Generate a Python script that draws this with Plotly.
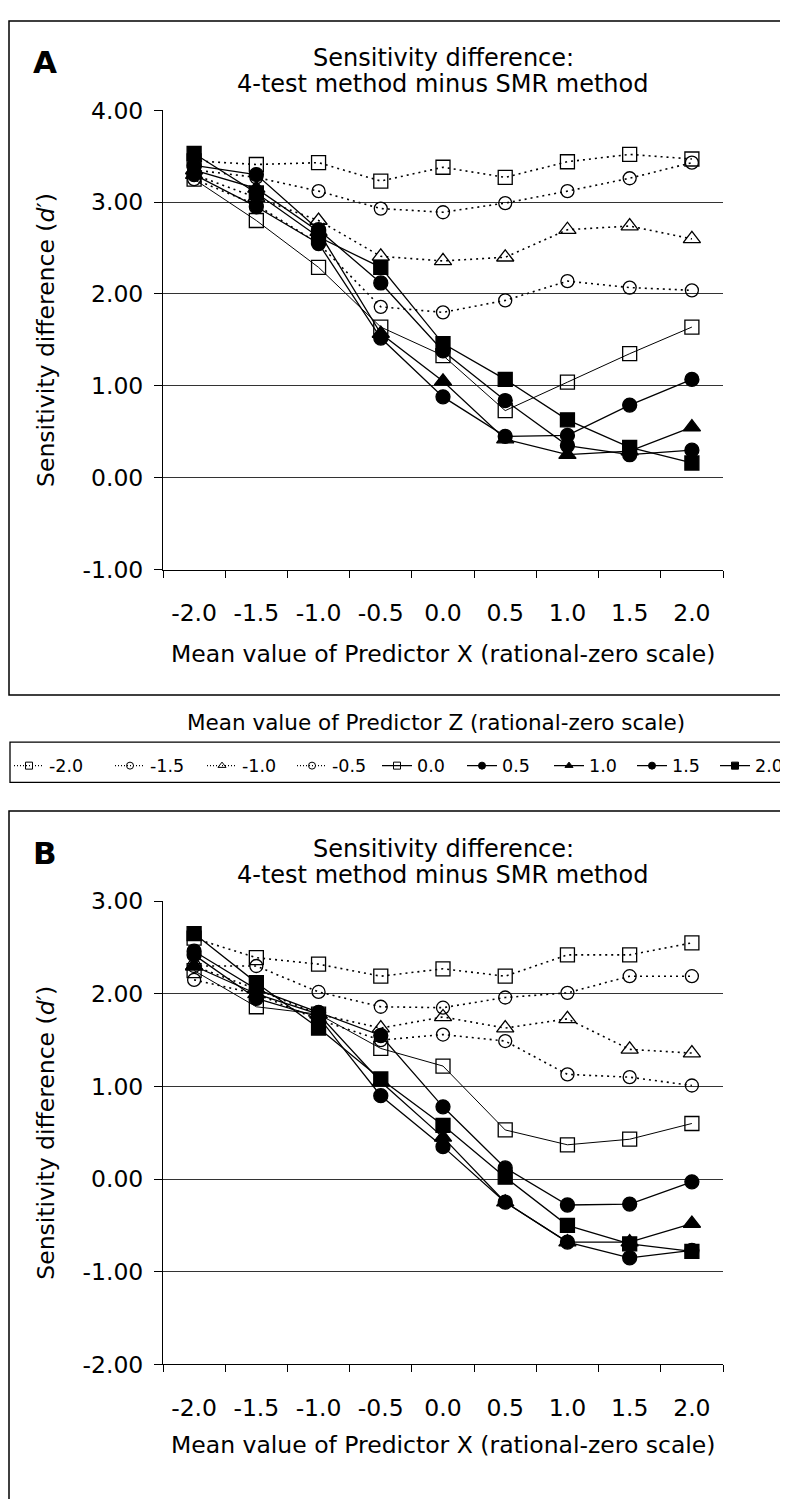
import plotly.graph_objects as go

# ---------------- data ----------------
x_vals = [-2.0, -1.5, -1.0, -0.5, 0.0, 0.5, 1.0, 1.5, 2.0]
x_labels = ["-2.0", "-1.5", "-1.0", "-0.5", "0.0", "0.5", "1.0", "1.5", "2.0"]
z_labels = ["-2.0", "-1.5", "-1.0", "-0.5", "0.0", "0.5", "1.0", "1.5", "2.0"]

# Panel A
a_zn20 = [3.45, 3.41, 3.43, 3.23, 3.38, 3.27, 3.44, 3.52, 3.47]
a_zn15 = [3.35, 3.27, 3.12, 2.93, 2.89, 2.99, 3.12, 3.26, 3.43]
a_zn10 = [3.30, 3.05, 2.80, 2.41, 2.36, 2.40, 2.70, 2.74, 2.60]
a_zn05 = [3.25, 2.97, 2.55, 1.86, 1.80, 1.93, 2.14, 2.07, 2.04]
a_z00 = [3.25, 2.80, 2.29, 1.64, 1.33, 0.73, 1.04, 1.35, 1.64]
a_z05 = [3.30, 2.95, 2.55, 1.52, 0.88, 0.45, 0.46, 0.79, 1.07]
a_z10 = [3.35, 3.15, 2.68, 1.57, 1.05, 0.42, 0.25, 0.29, 0.55]
a_z15 = [3.40, 3.30, 2.70, 2.12, 1.38, 0.84, 0.35, 0.25, 0.30]
a_z20 = [3.53, 3.10, 2.62, 2.29, 1.46, 1.07, 0.63, 0.33, 0.16]

# Panel B
b_zn20 = [2.60, 2.39, 2.32, 2.19, 2.27, 2.19, 2.42, 2.42, 2.55]
b_zn15 = [2.30, 2.30, 2.02, 1.86, 1.85, 1.96, 2.01, 2.19, 2.19]
b_zn10 = [2.30, 2.05, 1.78, 1.63, 1.75, 1.63, 1.73, 1.40, 1.36]
b_zn05 = [2.15, 2.00, 1.72, 1.50, 1.56, 1.49, 1.13, 1.10, 1.01]
b_z00 = [2.25, 1.86, 1.78, 1.41, 1.22, 0.53, 0.37, 0.43, 0.60]
b_z05 = [2.46, 2.05, 1.80, 1.55, 0.78, 0.12, -0.28, -0.27, -0.03]
b_z10 = [2.30, 2.00, 1.78, 1.05, 0.45, -0.25, -0.68, -0.68, -0.48]
b_z15 = [2.42, 1.95, 1.75, 0.90, 0.35, -0.25, -0.68, -0.85, -0.77]
b_z20 = [2.65, 2.12, 1.63, 1.08, 0.58, 0.02, -0.50, -0.70, -0.78]

a_series = [a_zn20, a_zn15, a_zn10, a_zn05, a_z00, a_z05, a_z10, a_z15, a_z20]
b_series = [b_zn20, b_zn15, b_zn10, b_zn05, b_z00, b_z05, b_z10, b_z15, b_z20]

y_ticks_a = [-1, 0, 1, 2, 3, 4]
y_ticks_b = [-2, -1, 0, 1, 2, 3]

# ---------------- styles ----------------
FONT = "DejaVu Sans, Verdana, sans-serif"
DOT = "2px,4px"
styles = [
    dict(symbol="square-open", dash=DOT, lw=1.6, size=14),
    dict(symbol="circle-open", dash=DOT, lw=1.6, size=13),
    dict(symbol="triangle-up-open", dash=DOT, lw=1.6, size=15),
    dict(symbol="circle-open", dash=DOT, lw=1.6, size=13),
    dict(symbol="square-open", dash="solid", lw=1.0, size=14),
    dict(symbol="circle", dash="solid", lw=1.3, size=14),
    dict(symbol="triangle-up", dash="solid", lw=1.3, size=15),
    dict(symbol="circle", dash="solid", lw=1.3, size=14),
    dict(symbol="square", dash="solid", lw=1.3, size=14),
]
# per-entry legend text widths (px) to mimic the uneven spacing of the original legend
legend_widths = [56, 47, 45, 40, 40, 42, 38, 38, 28]

# ---------------- geometry (page pixels) ----------------
OFF = 8          # default body margin of the html page
W, H = 780, 1491


def px(xp):
    return (xp - OFF) / W


def py(yp):
    return 1 - (yp - OFF) / H


PLOT_L, PLOT_R = 163, 723
A_TOP, A_BOT = 98, 566
B_TOP, B_BOT = 904, 1376

fig = go.Figure()


def add_panel(series, xa, ya):
    for vals, st, name in zip(series, styles, z_labels):
        fig.add_trace(go.Scatter(
            x=x_vals, y=vals, xaxis=xa, yaxis=ya, mode="lines+markers",
            name=name, showlegend=False, legendgroup=name,
            line=dict(color="black", width=st["lw"], dash=st["dash"]),
            marker=dict(symbol=st["symbol"], size=st["size"], color="black",
                        line=dict(color="black", width=1.3)),
            hoverinfo="x+y+name",
        ))


add_panel(a_series, "x", "y")
add_panel(b_series, "x2", "y2")

# legend-only entries with small symbols
for st, name, lw in zip(styles, z_labels, legend_widths):
    dotted = st["dash"] != "solid"
    fig.add_trace(go.Scatter(
        x=[None], y=[None], mode="lines+markers", name=name, legendgroup=name,
        showlegend=True, legendwidth=lw,
        line=dict(color="black", width=1.2 if dotted else 1.3,
                  dash="1px,2px" if dotted else "solid"),
        marker=dict(symbol=st["symbol"], size=7, color="black",
                    line=dict(color="black", width=1)),
    ))

boundaries = [x_vals[0] - 0.25] + [(a + b) / 2 for a, b in zip(x_vals[:-1], x_vals[1:])] + [x_vals[-1] + 0.25]

TICK_FONT = dict(family=FONT, size=23.5, color="black")
xaxis_common = dict(
    range=[boundaries[0], boundaries[-1]], tickmode="array", tickvals=x_vals, ticktext=x_labels,
    ticks="outside", ticklen=7, tickcolor="rgba(0,0,0,0)", ticklabelstandoff=15,
    showline=True, linecolor="black", linewidth=1, showgrid=False, zeroline=False,
    tickfont=TICK_FONT,
    minor=dict(tickmode="array", tickvals=boundaries, ticks="outside", ticklen=7,
               tickcolor="black", tickwidth=1, showgrid=False),
    domain=[px(PLOT_L), px(PLOT_R)], fixedrange=True,
)
yaxis_common = dict(
    tickmode="array", ticks="outside", ticklen=8, tickcolor="black",
    showline=True, linecolor="black", linewidth=1, showgrid=True, gridcolor="#333333",
    gridwidth=1, zeroline=False, ticklabelstandoff=6,
    tickfont=TICK_FONT, fixedrange=True,
)

fig.update_layout(
    width=W, height=H, margin=dict(l=0, r=0, t=0, b=0),
    paper_bgcolor="white", plot_bgcolor="white",
    font=dict(family=FONT, color="black"),
    xaxis=dict(**xaxis_common, anchor="y"),
    yaxis=dict(**yaxis_common, range=[-1, 4], tickvals=y_ticks_a,
               ticktext=[f"{v:.2f}" for v in y_ticks_a],
               domain=[py(A_BOT), py(A_TOP)], anchor="x"),
    xaxis2=dict(**xaxis_common, anchor="y2"),
    yaxis2=dict(**yaxis_common, range=[-2, 3], tickvals=y_ticks_b,
                ticktext=[f"{v:.2f}" for v in y_ticks_b],
                domain=[py(B_BOT), py(B_TOP)], anchor="x2"),
    showlegend=True,
    legend=dict(orientation="h", x=px(12), xanchor="left", y=py(766), yanchor="middle",
                entrywidthmode="pixels", bgcolor="rgba(0,0,0,0)",
                borderwidth=0, font=dict(family=FONT, size=17.5, color="black"),
                traceorder="normal", itemclick=False, itemdoubleclick=False),
)

shapes = [
    dict(type="rect", xref="paper", yref="paper", x0=px(9), x1=px(900), y0=py(7), y1=py(694),
         line=dict(color="black", width=1.5)),
    dict(type="rect", xref="paper", yref="paper", x0=px(10), x1=px(900), y0=py(742), y1=py(783),
         line=dict(color="black", width=1.3)),
    dict(type="rect", xref="paper", yref="paper", x0=px(9), x1=px(900), y0=py(812), y1=py(1600),
         line=dict(color="black", width=1.5)),
]
fig.update_layout(shapes=shapes)

ann = []


def text(x, y, s, size, bold=False, angle=0):
    ann.append(dict(x=px(x), y=py(y), xref="paper", yref="paper", text=f"<b>{s}</b>" if bold else s,
                    showarrow=False, xanchor="center", yanchor="middle", textangle=angle,
                    font=dict(family=FONT, size=size, color="black")))


ytitle = "Sensitivity difference (<i>d</i>′)"
xtitle = "Mean value of Predictor X (rational-zero scale)"
for dy, lab, top, bot in [(0, "A", A_TOP, A_BOT), (806, "B", B_TOP, B_BOT)]:
    text(45, 49 + dy, lab, 31, bold=True)
    text(443, 45 + dy, "Sensitivity difference:", 24)
    text(443, 71 + dy, "4-test method minus SMR method", 24)
    text(46, (top + bot) / 2, ytitle, 23.5, angle=-90)
    text(443, 652 + dy, xtitle, 23.5)
text(436, 722, "Mean value of Predictor Z (rational-zero scale)", 21.5)
fig.update_layout(annotations=ann)

fig.write_html("out.html")
